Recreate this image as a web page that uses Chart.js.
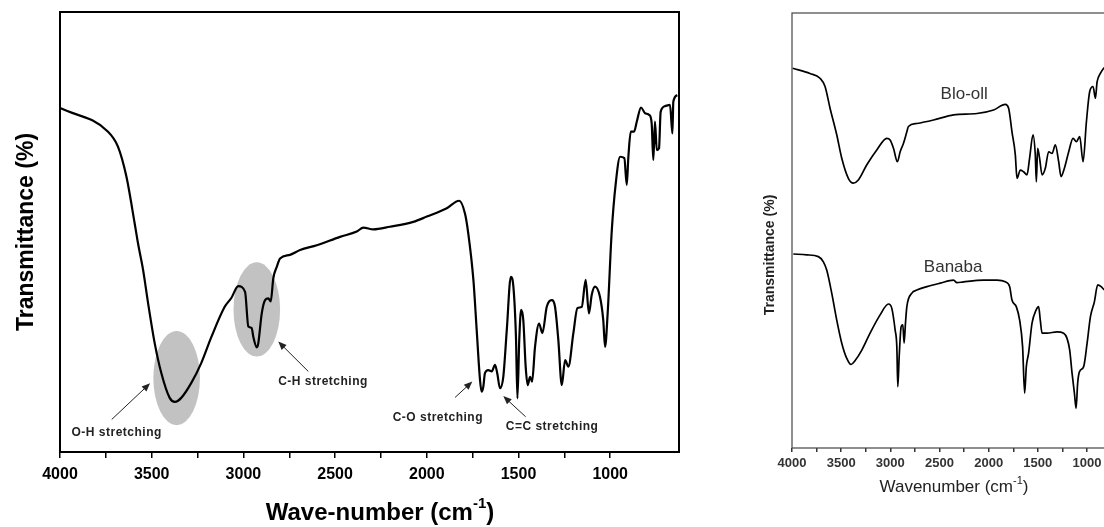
<!DOCTYPE html>
<html>
<head>
<meta charset="utf-8">
<script src="https://cdn.jsdelivr.net/npm/chart.js@4"></script>
<style>
  html, body { margin: 0; padding: 0; background: #fff; width: 1104px; height: 527px; overflow: hidden; }
  #ftir-main { position: absolute; left: 0; top: 0; }
  #ftir-compare { position: absolute; left: 740px; top: 0; }
</style>
</head>
<body>
<canvas id="ftir-main" width="700" height="527" style="width:700px;height:527px"></canvas>
<canvas id="ftir-compare" width="420" height="527" style="width:420px;height:527px"></canvas>
<script>
// main spectrum (left panel): wavenumber (cm-1) and transmittance (arb. %)
const mainWavenumber = [3996, 3738, 3684, 3638, 3593, 3575, 3547, 3520, 3484, 3448, 3402, 3373, 3339, 3284, 3230, 3175, 3102, 3066, 3028, 2991, 2973, 2955, 2946, 2927, 2919, 2900, 2882, 2864, 2851, 2837, 2818, 2800, 2746, 2691, 2600, 2473, 2382, 2346, 2292, 2201, 2074, 2000, 1891, 1824, 1792, 1774, 1746, 1728, 1710, 1701, 1692, 1683, 1665, 1646, 1628, 1616, 1601, 1583, 1564, 1542, 1528, 1514, 1506, 1496, 1486, 1474, 1461, 1450, 1437, 1426, 1410, 1388, 1370, 1346, 1319, 1301, 1283, 1264, 1246, 1228, 1201, 1179, 1155, 1134, 1116, 1101, 1083, 1056, 1038, 1028, 1014, 992, 970, 946, 923, 910, 901, 888, 870, 855, 832, 810, 787, 774, 765, 756, 746, 734, 725, 701, 674, 661, 656, 634];
const mainTransmittance = [78.1, 72.8, 69.4, 62.6, 52.0, 47.5, 41.4, 33.9, 24.8, 18.0, 12.3, 11.4, 12.3, 15.7, 20.2, 26.1, 33.0, 35.0, 37.7, 36.4, 28.5, 28.2, 26.2, 23.8, 24.7, 31.5, 34.5, 34.9, 34.2, 39.5, 42.1, 44.0, 44.8, 45.9, 47.0, 48.9, 50.1, 51.0, 50.6, 51.2, 52.3, 53.5, 55.4, 57.1, 54.2, 49.7, 39.1, 27.7, 16.4, 13.7, 14.8, 17.9, 18.6, 18.3, 19.8, 17.9, 14.5, 17.1, 27.7, 39.8, 37.6, 26.2, 12.2, 25.5, 32.3, 30.0, 19.4, 15.2, 17.1, 16.0, 23.9, 29.2, 27.0, 33.0, 34.5, 33.0, 25.5, 15.2, 20.9, 19.4, 27.0, 32.7, 33.0, 39.1, 31.5, 35.7, 37.6, 35.3, 30.0, 23.9, 31.5, 50.0, 61.0, 67.1, 66.8, 60.7, 67.1, 72.8, 72.8, 75.1, 78.3, 77.0, 76.6, 74.7, 66.4, 75.1, 68.6, 69.0, 77.3, 78.6, 78.9, 72.4, 79.6, 81.1];

// comparison panel (right): bio-oil and banaba spectra
const bioWavenumber = [3993, 3817, 3715, 3664, 3613, 3545, 3494, 3427, 3376, 3325, 3239, 3138, 3036, 3002, 2968, 2928, 2900, 2867, 2832, 2816, 2730, 2561, 2357, 2119, 1950, 1831, 1797, 1763, 1729, 1712, 1678, 1645, 1610, 1584, 1549, 1526, 1515, 1502, 1482, 1457, 1424, 1390, 1355, 1322, 1288, 1264, 1230, 1186, 1142, 1108, 1074, 1040, 1006, 973, 938, 915, 897, 864, 830, 790, 750];
const bioTransmittance = [87.3, 86.1, 85.0, 83.1, 78.1, 72.0, 66.6, 62.0, 60.9, 61.6, 65.1, 68.5, 71.2, 70.8, 68.9, 65.8, 68.1, 70.0, 72.7, 73.9, 74.6, 75.4, 76.6, 76.9, 77.7, 79.0, 78.1, 72.7, 67.4, 62.0, 63.9, 63.5, 62.8, 66.6, 72.0, 67.4, 61.2, 68.9, 66.6, 62.8, 64.3, 68.1, 67.7, 69.7, 65.8, 62.4, 64.3, 68.1, 71.2, 70.4, 71.6, 65.8, 75.0, 81.9, 83.1, 80.4, 84.2, 86.1, 87.3, 88.0, 88.3];
const banabaWavenumber = [3987, 3850, 3732, 3681, 3647, 3596, 3545, 3494, 3443, 3399, 3358, 3290, 3206, 3104, 3019, 2985, 2951, 2934, 2924, 2910, 2890, 2873, 2860, 2846, 2832, 2781, 2730, 2628, 2493, 2357, 2323, 2256, 2052, 1915, 1831, 1787, 1763, 1719, 1685, 1655, 1634, 1617, 1594, 1559, 1518, 1492, 1475, 1457, 1406, 1305, 1237, 1203, 1176, 1152, 1128, 1111, 1095, 1077, 1034, 999, 965, 925, 891, 856, 830, 790, 750];
const banabaTransmittance = [44.6, 44.4, 44.0, 42.8, 40.9, 35.6, 29.4, 24.1, 20.6, 19.2, 20.1, 22.5, 26.4, 30.6, 33.1, 32.1, 27.1, 23.3, 14.1, 21.0, 27.9, 28.3, 24.1, 28.7, 32.5, 35.6, 36.3, 37.1, 37.9, 38.6, 38.0, 38.2, 38.6, 38.6, 38.2, 37.1, 34.0, 32.5, 29.4, 23.3, 12.6, 18.7, 21.8, 28.7, 31.7, 32.5, 29.4, 26.4, 26.4, 26.7, 26.4, 25.2, 22.5, 17.2, 12.6, 9.1, 14.9, 17.5, 18.7, 24.1, 30.2, 33.6, 37.5, 37.1, 36.5, 36.0, 36.5];

const mainTicks = [4000, 3500, 3000, 2500, 2000, 1500, 1000];
const compareTicks = [4000, 3500, 3000, 2500, 2000, 1500, 1000, 500];

// band annotations on the main panel, in data units
const bandNames = ['O-H stretching', 'C-H stretching', 'C-O stretching', 'C=C stretching'];
const bandLabelAt = [[3691, 4.3], [2566, 16.0], [1940, 7.7], [1317, 5.8]];
const bandArrowFrom = [[3718, 7.4], [2646, 18.3], [1846, 12.4], [1461, 8.0]];
const bandArrowTo = [[3509, 15.6], [2810, 25.1], [1752, 16.0], [1583, 12.7]];
const shadedBands = [[3364, 16.8], [2927, 32.4]];   // centres of grey ellipses
const shadeRadius = [127, 10.7];                     // half width (cm-1), half height (%)

const seriesNames = ['Blo-oll', 'Banaba'];
const seriesLabelAt = [[2249, 81.4], [2361, 41.5]];

const FONT = '"Liberation Sans", Arial, sans-serif';

function toPoints(xs, ys) {
  return xs.map((x, i) => ({ x: x, y: ys[i] }));
}

function drawTitleWithSup(ctx, parts, cx, cy, size, weight) {
  // parts: [text, sup, tail]
  const mainFont = `${weight} ${size}px ${FONT}`;
  const supFont = `${weight} ${Math.round(size * 0.62)}px ${FONT}`;
  ctx.font = mainFont;
  const w1 = ctx.measureText(parts[0]).width;
  const w3 = ctx.measureText(parts[2]).width;
  ctx.font = supFont;
  const w2 = ctx.measureText(parts[1]).width;
  let x = cx - (w1 + w2 + w3) / 2;
  ctx.textAlign = 'left';
  ctx.textBaseline = 'middle';
  ctx.font = mainFont;
  ctx.fillText(parts[0], x, cy);
  x += w1;
  ctx.font = supFont;
  ctx.fillText(parts[1], x, cy - size * 0.38);
  x += w2;
  ctx.font = mainFont;
  ctx.fillText(parts[2], x, cy);
}

function arrow(ctx, x1, y1, x2, y2) {
  const ang = Math.atan2(y2 - y1, x2 - x1);
  const head = 9;
  ctx.beginPath();
  ctx.moveTo(x1, y1);
  ctx.lineTo(x2 - Math.cos(ang) * head * 0.8, y2 - Math.sin(ang) * head * 0.8);
  ctx.stroke();
  ctx.beginPath();
  ctx.moveTo(x2, y2);
  ctx.lineTo(x2 - head * Math.cos(ang - 0.4), y2 - head * Math.sin(ang - 0.4));
  ctx.lineTo(x2 - head * Math.cos(ang + 0.4), y2 - head * Math.sin(ang + 0.4));
  ctx.closePath();
  ctx.fill();
}

const mainDecor = {
  id: 'mainDecor',
  beforeDatasetsDraw(chart) {
    const { ctx, scales: { x, y } } = chart;
    ctx.save();
    ctx.fillStyle = '#c2c2c2';
    shadedBands.forEach(c => {
      const px = x.getPixelForValue(c[0]);
      const py = y.getPixelForValue(c[1]);
      const rx = Math.abs(x.getPixelForValue(c[0] + shadeRadius[0]) - px);
      const ry = Math.abs(y.getPixelForValue(c[1] + shadeRadius[1]) - py);
      ctx.beginPath();
      ctx.ellipse(px, py, rx, ry, 0, 0, Math.PI * 2);
      ctx.fill();
    });
    ctx.restore();
  },
  afterDraw(chart) {
    const { ctx, chartArea: a, scales: { x, y } } = chart;
    ctx.save();
    // frame
    ctx.strokeStyle = '#000';
    ctx.lineWidth = 2;
    ctx.strokeRect(a.left, a.top, a.right - a.left, a.bottom - a.top);

    // arrows and band labels
    ctx.strokeStyle = '#222';
    ctx.fillStyle = '#222';
    ctx.lineWidth = 1;
    bandNames.forEach((name, i) => {
      arrow(ctx,
        x.getPixelForValue(bandArrowFrom[i][0]), y.getPixelForValue(bandArrowFrom[i][1]),
        x.getPixelForValue(bandArrowTo[i][0]), y.getPixelForValue(bandArrowTo[i][1]));
      ctx.font = `bold 12px ${FONT}`;
      ctx.letterSpacing = '0.5px';
      ctx.textAlign = 'center';
      ctx.textBaseline = 'middle';
      ctx.fillText(name, x.getPixelForValue(bandLabelAt[i][0]), y.getPixelForValue(bandLabelAt[i][1]));
    });
    ctx.letterSpacing = '0px';

    // axis titles
    ctx.fillStyle = '#000';
    drawTitleWithSup(ctx, ['Wave-number (cm', '-1', ')'], 380, 513, 24, 'bold');
    ctx.translate(27, (a.top + a.bottom) / 2);
    ctx.rotate(-Math.PI / 2);
    ctx.font = `bold 23px ${FONT}`;
    ctx.textAlign = 'center';
    ctx.textBaseline = 'middle';
    ctx.fillText('Transmittance (%)', 0, 0);
    ctx.restore();
  }
};

const compareDecor = {
  id: 'compareDecor',
  afterDraw(chart) {
    const { ctx, chartArea: a, scales: { x, y } } = chart;
    ctx.save();
    ctx.strokeStyle = '#444';
    ctx.lineWidth = 1.2;
    ctx.strokeRect(a.left, a.top, a.right - a.left, a.bottom - a.top);

    ctx.fillStyle = '#333';
    ctx.font = `17px ${FONT}`;
    ctx.textAlign = 'center';
    ctx.textBaseline = 'middle';
    seriesNames.forEach((name, i) => {
      ctx.fillText(name, x.getPixelForValue(seriesLabelAt[i][0]), y.getPixelForValue(seriesLabelAt[i][1]));
    });

    ctx.fillStyle = '#222';
    drawTitleWithSup(ctx, ['Wavenumber (cm', '-1', ')'], 214, 487, 17, 'normal');
    ctx.translate(30, 255);
    ctx.rotate(-Math.PI / 2);
    ctx.font = `bold 14px ${FONT}`;
    ctx.textAlign = 'center';
    ctx.textBaseline = 'middle';
    ctx.fillText('Transmittance (%)', 0, 0);
    ctx.restore();
  }
};

function xScale(min, tickList, fontSize, tickLen, pad, height, color) {
  return {
    type: 'linear',
    reverse: true,
    min: min,
    max: 4000,
    afterBuildTicks: s => { s.ticks = s.ticks.filter(t => t.value % 250 === 0); },
    afterFit: s => { s.height = height; },
    ticks: {
      stepSize: 250,
      autoSkip: false,
      maxRotation: 0,
      padding: pad,
      color: color,
      font: { family: FONT, size: fontSize, weight: 'bold' },
      callback: v => tickList.includes(v) ? String(v) : ''
    },
    grid: { drawOnChartArea: false, color: color, tickLength: tickLen, lineWidth: 1.5 },
    border: { display: false },
    title: { display: false }
  };
}

function yScale(width) {
  return {
    min: 0,
    max: 100,
    afterFit: s => { s.width = width; },
    ticks: { display: false },
    grid: { display: false },
    border: { display: false }
  };
}

new Chart(document.getElementById('ftir-main'), {
  type: 'line',
  data: {
    datasets: [{
      data: toPoints(mainWavenumber, mainTransmittance),
      borderColor: '#000',
      borderWidth: 2.2,
      pointRadius: 0,
      cubicInterpolationMode: 'monotone',
      borderJoinStyle: 'round'
    }]
  },
  options: {
    responsive: false,
    animation: false,
    layout: { padding: { top: 12, right: 21, left: 0, bottom: 0 } },
    plugins: { legend: { display: false }, tooltip: { enabled: false } },
    scales: {
      x: xScale(625, mainTicks, 16, 6, 7, 75, '#000'),
      y: yScale(60)
    }
  },
  plugins: [mainDecor]
});

new Chart(document.getElementById('ftir-compare'), {
  type: 'line',
  data: {
    datasets: [
      { label: seriesNames[0], data: toPoints(bioWavenumber, bioTransmittance), borderColor: '#000', borderWidth: 1.7, pointRadius: 0, cubicInterpolationMode: 'monotone', borderJoinStyle: 'round' },
      { label: seriesNames[1], data: toPoints(banabaWavenumber, banabaTransmittance), borderColor: '#000', borderWidth: 1.7, pointRadius: 0, cubicInterpolationMode: 'monotone', borderJoinStyle: 'round' }
    ]
  },
  options: {
    responsive: false,
    animation: false,
    layout: { padding: { top: 13, right: 14, left: 0, bottom: 0 } },
    plugins: { legend: { display: false }, tooltip: { enabled: false } },
    scales: {
      x: xScale(400, compareTicks, 13, 4, 4, 79, '#333'),
      y: yScale(52)
    }
  },
  plugins: [compareDecor]
});
</script>
</body>
</html>
